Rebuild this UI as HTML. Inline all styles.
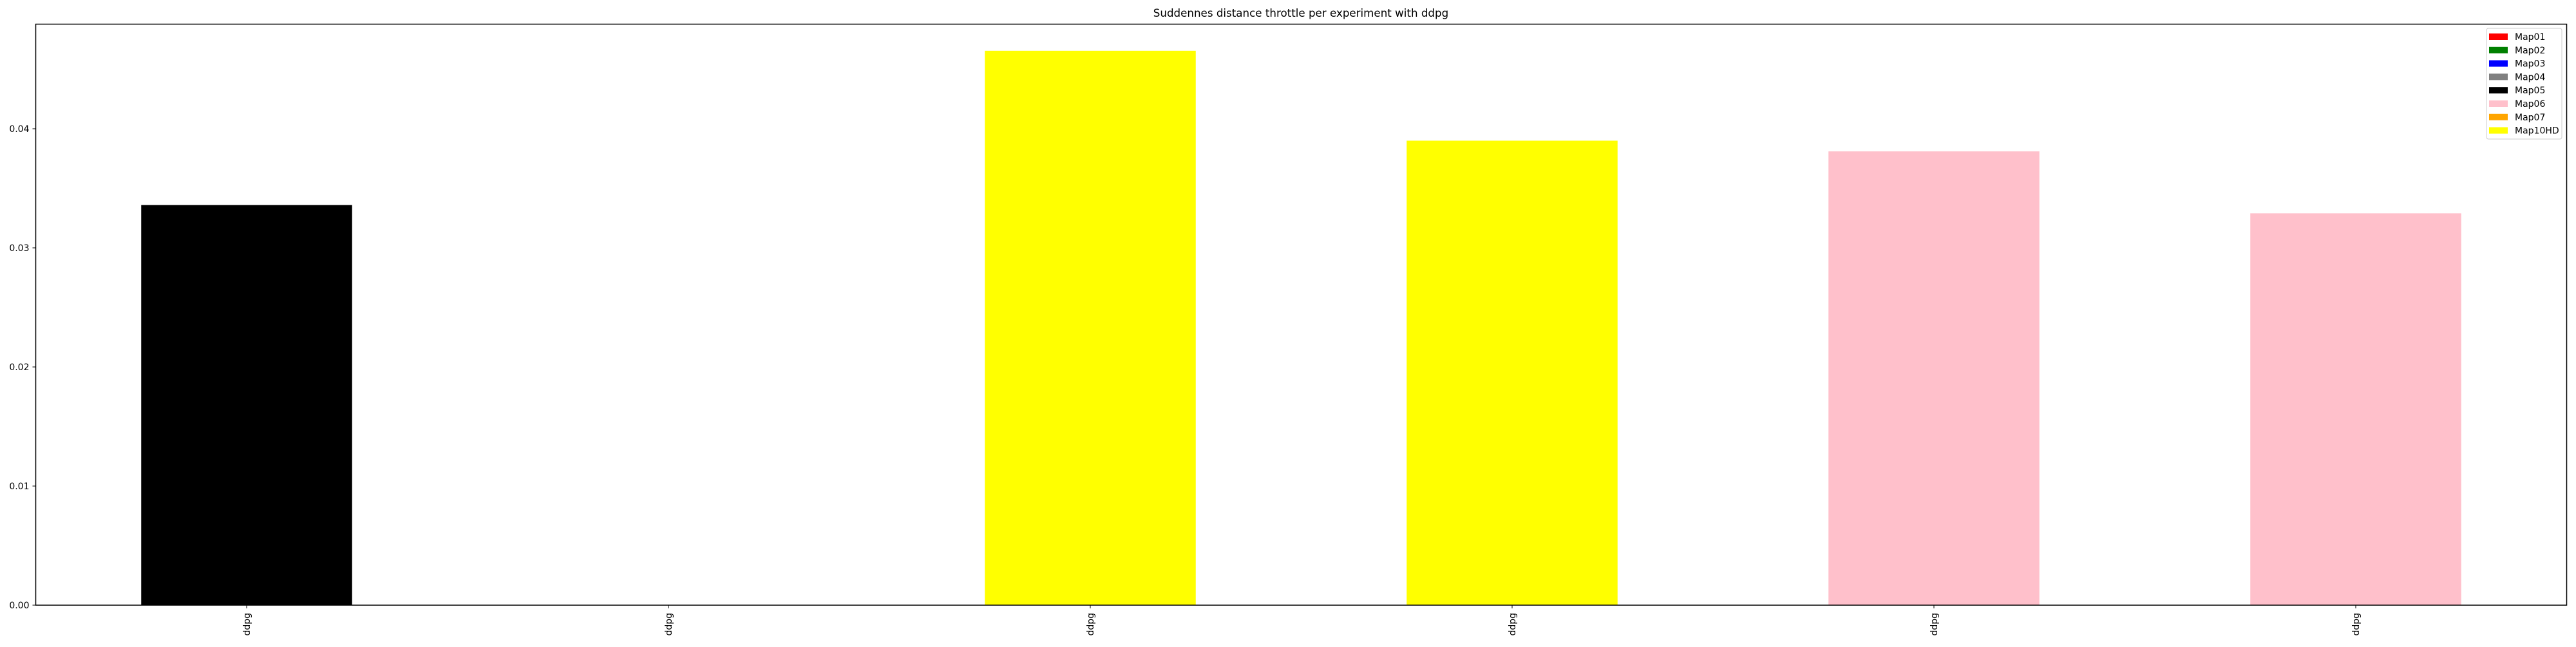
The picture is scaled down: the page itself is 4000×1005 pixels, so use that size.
<!DOCTYPE html>
<html><head><meta charset="utf-8"><style>
html,body{margin:0;padding:0;background:#fff;}
svg text{font-family:"DejaVu Sans","Liberation Sans",sans-serif;fill:#000;}
</style></head><body>
<svg id="chart" width="4000" height="1000" xmlns="http://www.w3.org/2000/svg">
<rect width="4000" height="1000" fill="#fff"/>
<text x="2020" y="26" font-size="16.7" text-anchor="middle">Suddennes distance throttle per experiment with ddpg</text>
<g id="bars"></g>
<g id="yaxis"></g>
<g id="xaxis"></g>
<rect x="55.5" y="37.5" width="3930" height="902.5" fill="none" stroke="#000" stroke-width="1.5"/>
<g id="legend"></g>
</svg>
<script>
const categories = ["ddpg","ddpg","ddpg","ddpg","ddpg","ddpg"];
const values = [0.0336, 0, 0.04655, 0.0390, 0.0381, 0.0329];
const barColors = ["black","none","yellow","yellow","pink","pink"];
const yTicks = [0, 0.01, 0.02, 0.03, 0.04];
const yTickLabels = ["0.00","0.01","0.02","0.03","0.04"];
const legendLabels = ["Map01","Map02","Map03","Map04","Map05","Map06","Map07","Map10HD"];
const legendColors = ["red","green","blue","gray","black","pink","orange","yellow"];

const NS="http://www.w3.org/2000/svg";
const L=55.5,R=3985.5,T=37.5,B=940;
const step=(R-L)/categories.length;
function x(i){return L+step*(i+0.5);}
function y(v){return B-v*(B-200)/0.04;}
function mk(tag,attrs,parent){const e=document.createElementNS(NS,tag);for(const k in attrs)e.setAttribute(k,attrs[k]);parent.appendChild(e);return e;}
const gb=document.getElementById('bars'),gy=document.getElementById('yaxis'),gx=document.getElementById('xaxis'),gl=document.getElementById('legend');
values.forEach((v,i)=>{
  if(barColors[i]==="none"||v<=0)return;
  const r=mk('rect',{x:x(i)-step*0.25,y:y(v),width:step*0.5,height:B-y(v),fill:barColors[i]},gb);
  
  
});
yTicks.forEach((t,i)=>{
  const l=mk('line',{x1:L-5,x2:L,y1:y(t),y2:y(t),stroke:'#000','stroke-width':1},gy);
  
  
  const tx=mk('text',{x:L-10,y:y(t)+5,'font-size':14,'text-anchor':'end'},gy);
  tx.textContent=yTickLabels[i];
  
  
});
categories.forEach((c,i)=>{
  const l=mk('line',{x1:x(i),x2:x(i),y1:B,y2:B+5,stroke:'#000','stroke-width':1},gx);
  
  
  const tx=mk('text',{x:0,y:0,'font-size':14,'text-anchor':'end',transform:`translate(${x(i)+5},${B+12}) rotate(-90)`},gx);
  tx.textContent=c;
  
  
});
const box=mk('rect',{x:3861,y:44,width:117,height:172,rx:3,fill:'#fff','fill-opacity':0.8,stroke:'#ccc','stroke-width':1},gl);


legendLabels.forEach((lab,i)=>{
  const yy=52+i*20.8;
  const p=mk('rect',{x:3865,y:yy,width:29,height:10,fill:legendColors[i]},gl);
  
  
  const tx=mk('text',{x:3905,y:yy+10,'font-size':14},gl);
  tx.textContent=lab;
  
  
});
</script>
</body></html>
